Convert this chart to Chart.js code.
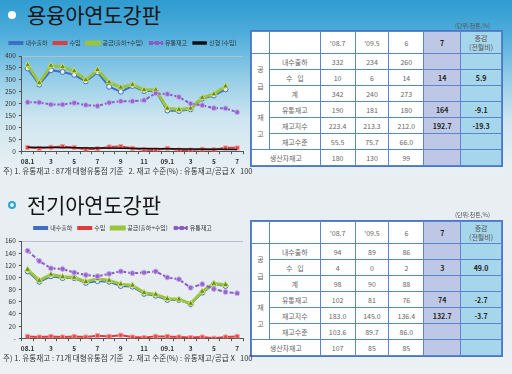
<!DOCTYPE html>
<html>
<head>
<meta charset="utf-8">
<script src="https://cdn.jsdelivr.net/npm/chart.js@4.4.0/dist/chart.umd.min.js"></script>
<style>
  html, body { margin: 0; padding: 0; }
  body {
    width: 512px; height: 374px; overflow: hidden; position: relative;
    font-family: 'Noto Sans CJK KR', 'Noto Sans', sans-serif;
    background: linear-gradient(180deg, #2f9bd0 0%, #4eaddb 9%, #8fcbe6 20%, #cfe6f0 32%, #e9f0f3 46%, #e6ecf0 75%, #edf1f4 100%);
  }
  .title { position: absolute; left: 27px; font-size: 21px; color: #151515; line-height: 1; letter-spacing: -0.2px; }
  .bullet { position: absolute; box-sizing: border-box; width: 8px; height: 8px; border-radius: 50%; }
  .unit { position: absolute; font-size: 6px; color: #555; }
  .note { position: absolute; left: 3px; font-size: 7.6px; color: #333; white-space: pre; }
  .wrap { position: absolute; }
  table.t { position: absolute; border-collapse: collapse; font-size: 7px; color: #666; background: #fff; }
  table.t td { border: 1px solid #5b86cf; text-align: center; padding: 0; }
  table.t { outline: 1.5px solid #4b78c6; }
  td.c7 { background: #bec8e6; color: #222; font-weight: bold; }
  td.cd { background: #a6d6ec; color: #222; font-weight: bold; }
  td.hd7 { background: #bec8e6; color: #222; font-weight: bold; }
  td.hdd { background: #a6d6ec; color: #555; line-height: 1.15; }
</style>
</head>
<body>

<div class="bullet" style="left:8px; top:11px; background:#fff;"></div>
<div class="title" style="top:4px;">용융아연도강판</div>
<div class="unit" style="left:455px; top:21px;">(단위:천톤,%)</div>
<div class="wrap" style="left:0; top:34px; width:248px; height:134px;"><canvas id="hdgChart"></canvas></div>
<div id="hdgTable"></div>
<div class="note" style="top:165px;">주) 1. 유통재고 : 87개 대형유통점 기준   2. 재고 수준(%) : 유통재고/공급 X   100</div>

<div class="bullet" style="left:8px; top:201px; border:2px solid #2aa6cf;"></div>
<div class="title" style="top:194px;">전기아연도강판</div>
<div class="unit" style="left:455px; top:210px;">(단위:천톤,%)</div>
<div class="wrap" style="left:0; top:219px; width:248px; height:136px;"><canvas id="egChart"></canvas></div>
<div id="egTable"></div>
<div class="note" style="top:352px;">주) 1. 유통재고 : 71개 대형유통점 기준   2. 재고 수준(%) : 유통재고/공급 X   100</div>

<script>
// x categories (monthly, 2008.1 - 2009.7)
const months = ['08.1', '2', '3', '4', '5', '6', '7', '8', '9', '10', '11', '12',
                '09.1', '2', '3', '4', '5', '6', '7'];

// 용융아연도강판 (hot-dip galvanized)
const hdgDomestic = [348, 280, 340, 333, 321, 293, 332, 271, 250, 274, 253, 253, 171, 169, 176, 221, 234, 260, null];
const hdgImport   = [16, 12, 17, 20, 16, 8, 10, 18, 20, 12, 6, 5, 12, 5, 5, 8, 6, 14, 14];
const hdgSupply   = [362, 287, 360, 354, 337, 300, 342, 290, 268, 280, 258, 258, 180, 175, 180, 225, 240, 273, null];
const hdgStock    = [206, 205, 196, 196, 203, 194, 190, 204, 210, 210, 214, 243, 240, 228, 200, 193, 181, 180, 164];
// import trend line, only end points
const hdgTrend    = [17, null, null, null, null, null, null, null, null, null, null, null, null, null, null, null, null, null, 7];

// 전기아연도강판 (electro-galvanized)
const egDomestic = [110, 93, 102, 99, 99, 91, 94, 93, 86, 85, 73, 70, 63, 63, 56, 75, 89, 86, null];
const egImport   = [3, 2, 3, 2, 3, 2, 4, 3, 5, 2, 1, 3, 3, 2, 1, 2, 0, 2, 3];
const egSupply   = [113, 95, 105, 101, 100, 93, 98, 95, 89, 87, 75, 72, 65, 64, 57, 77, 90, 88, null];
const egStock    = [144, 127, 115, 114, 108, 104, 102, 106, 110, 107, 108, 110, 100, 97, 83, 89, 81, 76, 74];

// table contents
const tableHead = ["'08.7", "'09.5", '6', '7'];
const hdgTableRows = [
  ['내수출하', '332', '234', '260', '', ''],
  ['수&nbsp;&nbsp;&nbsp;입', '10', '6', '14', '14', '5.9'],
  ['계', '342', '240', '273', '', ''],
  ['유통재고', '190', '181', '180', '164', '-9.1'],
  ['재고지수', '223.4', '213.3', '212.0', '192.7', '-19.3'],
  ['재고수준', '55.5', '75.7', '66.0', '', ''],
  ['생산자재고', '180', '130', '99', '', '']
];
const egTableRows = [
  ['내수출하', '94', '89', '86', '', ''],
  ['수&nbsp;&nbsp;&nbsp;입', '4', '0', '2', '3', '49.0'],
  ['계', '98', '90', '88', '', ''],
  ['유통재고', '102', '81', '76', '74', '-2.7'],
  ['재고지수', '183.0', '145.0', '136.4', '132.7', '-3.7'],
  ['재고수준', '103.6', '89.7', '86.0', '', ''],
  ['생산자재고', '107', '85', '85', '', '']
];

const COLORS = {
  domestic: '#3f6fc4',
  imports: '#e23b3b',
  supply: '#9cc33c',
  stock: '#8a5cc4'
};

function baseDatasets(domestic, imports, supply, stock) {
  return [
    {
      label: '내수출하', data: domestic, borderColor: COLORS.domestic, backgroundColor: COLORS.domestic,
      borderWidth: 2, pointRadius: 2.5, pointStyle: 'circle',
      pointBackgroundColor: '#e6eefa', pointBorderColor: COLORS.domestic, pointBorderWidth: 1, order: 3
    },
    {
      label: '수입', data: imports, borderColor: COLORS.imports, backgroundColor: COLORS.imports,
      borderWidth: 2, pointRadius: 2.8, pointStyle: 'rect',
      pointBackgroundColor: '#e8454a', pointBorderColor: '#f29a9a', pointBorderWidth: 1, order: 4
    },
    {
      label: '공급(출하+수입)', data: supply, borderColor: COLORS.supply, backgroundColor: COLORS.supply,
      borderWidth: 3, pointRadius: 3.5, pointStyle: 'triangle',
      pointBackgroundColor: '#6c8a22', pointBorderColor: '#c8e070', pointBorderWidth: 1, order: 2
    },
    {
      label: '유통재고', data: stock, borderColor: COLORS.stock, backgroundColor: COLORS.stock,
      borderWidth: 2, borderDash: [4, 2], pointRadius: 2.5, pointStyle: 'circle',
      pointBackgroundColor: '#9466cc', pointBorderColor: '#c9b0ea', pointBorderWidth: 1, order: 1
    }
  ];
}

function makeChart(canvasId, datasets, yMax, yStep, zeroLabel) {
  const ctx = document.getElementById(canvasId);
  return new Chart(ctx, {
    type: 'line',
    data: { labels: months, datasets: datasets },
    options: {
      responsive: true,
      maintainAspectRatio: false,
      animation: false,
      spanGaps: false,
      layout: { padding: { left: 2, right: 4, top: 0, bottom: 0 } },
      plugins: {
        legend: {
          display: true,
          position: 'top',
          labels: {
            boxWidth: 13, boxHeight: 2, padding: 6,
            color: '#333',
            font: { family: "'Noto Sans CJK KR'", size: 6 },
            sort: (a, b) => a.datasetIndex - b.datasetIndex
          }
        },
        tooltip: { enabled: false }
      },
      scales: {
        x: {
          offset: true,
          grid: { offset: true, drawOnChartArea: false, tickLength: 3, color: '#555' },
          border: { display: true, color: '#555' },
          ticks: {
            autoSkip: false, maxRotation: 0, padding: 3,
            color: '#333', font: { family: "'Noto Sans CJK KR'", size: 6.5, weight: 'bold' },
            callback: function (v, i) { return i % 2 === 0 ? this.getLabelForValue(v) : ''; }
          }
        },
        y: {
          min: 0, max: yMax,
          grid: {
            color: c => (c.tick && c.tick.value === yMax) ? '#b8c0c8' : 'rgba(0,0,0,0)',
            tickColor: '#555', tickLength: 3
          },
          border: { display: true, color: '#555' },
          ticks: {
            stepSize: yStep, padding: 3,
            color: '#333', font: { family: "'Noto Sans CJK KR'", size: 6.5 },
            callback: v => (v === 0 && zeroLabel) ? zeroLabel : v
          }
        }
      }
    }
  });
}

function buildTable(holderId, rows, top) {
  let html = '<table class="t" style="left:251px; top:' + top + 'px; width:251px;">';
  html += '<colgroup><col style="width:18px"><col style="width:51px"><col style="width:35px">' +
          '<col style="width:34px"><col style="width:35px"><col style="width:37px"><col style="width:41px"></colgroup>';
  html += '<tr style="height:22px"><td></td><td></td>';
  html += '<td>' + tableHead[0] + '</td><td>' + tableHead[1] + '</td><td>' + tableHead[2] + '</td>';
  html += '<td class="hd7">' + tableHead[3] + '</td><td class="hdd">증감<br>(전월비)</td></tr>';
  rows.forEach((r, i) => {
    html += '<tr style="height:16px">';
    if (i === 0) html += '<td rowspan="3" style="line-height:2.4">공<br>급</td>';
    if (i === 3) html += '<td rowspan="3" style="line-height:2.4">재<br>고</td>';
    if (i === 6) html += '<td colspan="2">' + r[0] + '</td>';
    else html += '<td>' + r[0] + '</td>';
    html += '<td>' + r[1] + '</td><td>' + r[2] + '</td><td>' + r[3] + '</td>';
    html += '<td class="c7">' + r[4] + '</td><td class="cd">' + r[5] + '</td></tr>';
  });
  html += '</table>';
  document.getElementById(holderId).innerHTML = html;
}

buildTable('hdgTable', hdgTableRows, 31);
buildTable('egTable', egTableRows, 221);

const hdgSets = baseDatasets(hdgDomestic, hdgImport, hdgSupply, hdgStock);
hdgSets.push({
  label: '신형 (수입)', data: hdgTrend, borderColor: '#111', backgroundColor: '#111',
  borderWidth: 1.5, pointRadius: 0, spanGaps: true, order: 0
});
makeChart('hdgChart', hdgSets, 400, 50, null);
makeChart('egChart', baseDatasets(egDomestic, egImport, egSupply, egStock), 160, 20, '-');
</script>
</body>
</html>
